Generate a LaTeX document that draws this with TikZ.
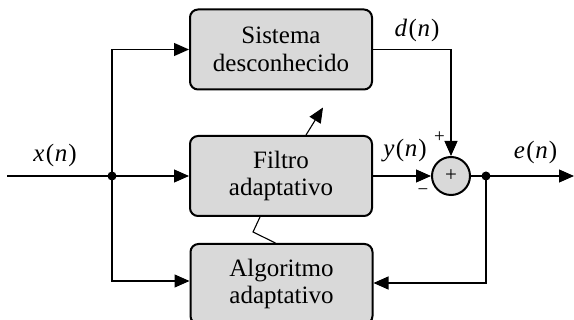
\documentclass[tikz,border=0pt]{standalone}
\usepackage{fontspec}
\setmainfont{Liberation Serif}
\usetikzlibrary{arrows.meta,calc}
\definecolor{boxgray}{RGB}{217,217,217}
\newcommand{\sig}[1]{\textit{#1}\kern1.5pt(\kern0.5pt\textit{n}\kern1pt)}
\tikzset{
  blk/.style={draw, line width=2pt, fill=boxgray, rounded corners=8pt,
    minimum width=182pt, minimum height=80pt, align=center,
    font=\fontsize{25}{27.5}\selectfont, inner sep=0pt},
  sumnode/.style={draw, circle, line width=2pt, fill=boxgray, minimum size=38pt,
    inner sep=0pt, font=\fontsize{21}{22}\selectfont},
  dotnode/.style={circle, fill=black, minimum size=9pt, inner sep=0pt},
  conn/.style={line width=1.1pt, -{Triangle[length=15pt,width=13pt]}},
  plain/.style={line width=1.1pt},
  lbl/.style={font=\fontsize{25}{27}\selectfont, inner sep=0pt},
  sgn/.style={font=\fontsize{19}{20}\selectfont, inner sep=0pt},
}
\begin{document}
\begin{tikzpicture}[x=1pt,y=1pt]
\useasboundingbox (0,0) rectangle (574,-320);
\begin{scope}
\clip (0,0) rectangle (574,-320);
\node[blk] (s1) at (281,-49.5) {Sistema\\desconhecido};
\node[blk] (s2) at (281,-176) {Filtro\\adaptativo};
\node[blk] (s3) at (281.5,-284) {Algoritmo\\adaptativo};
\end{scope}
\node[sumnode] (sum) at (451,-176) {+};
\node[dotnode] (j1) at (112,-176) {};
\node[dotnode] (j2) at (486,-176) {};
\coordinate (in) at (7,-176);
\coordinate (out) at (574,-176);
\coordinate (adapt) at (323,-107.5);
\coordinate (zz) at (253,-232);

\draw[conn] (in) -- (s2.west);
\draw[conn] (j1.center) |- (s1.west);
\draw[conn] (j1.center) |- ([yshift=3pt]s3.west);
\draw[conn] (s1.east) -| (sum.north);
\draw[conn] (s2.east) -- (sum.west);
\draw[conn] (sum.east) -- (out);
\draw[conn] (j2.center) |- ([yshift=1pt]s3.east);
\draw[conn] ([xshift=25pt]s2.north) -- (adapt);
\draw[plain] ([xshift=-21pt]s2.south) -- (zz) -- ([xshift=-6pt]s3.north);

\node[lbl] (lx) at (55,-155) {\sig{x}};
\node[lbl] (ld) at (417,-30) {\sig{d}};
\node[lbl] (ly) at (405,-151) {\sig{y}};
\node[lbl] (le) at (535.5,-152) {\sig{e}};
\node[sgn] (plus) at (439.5,-137) {+};
\node[sgn] (minus) at (423,-192) {−};
\end{tikzpicture}
\end{document}
